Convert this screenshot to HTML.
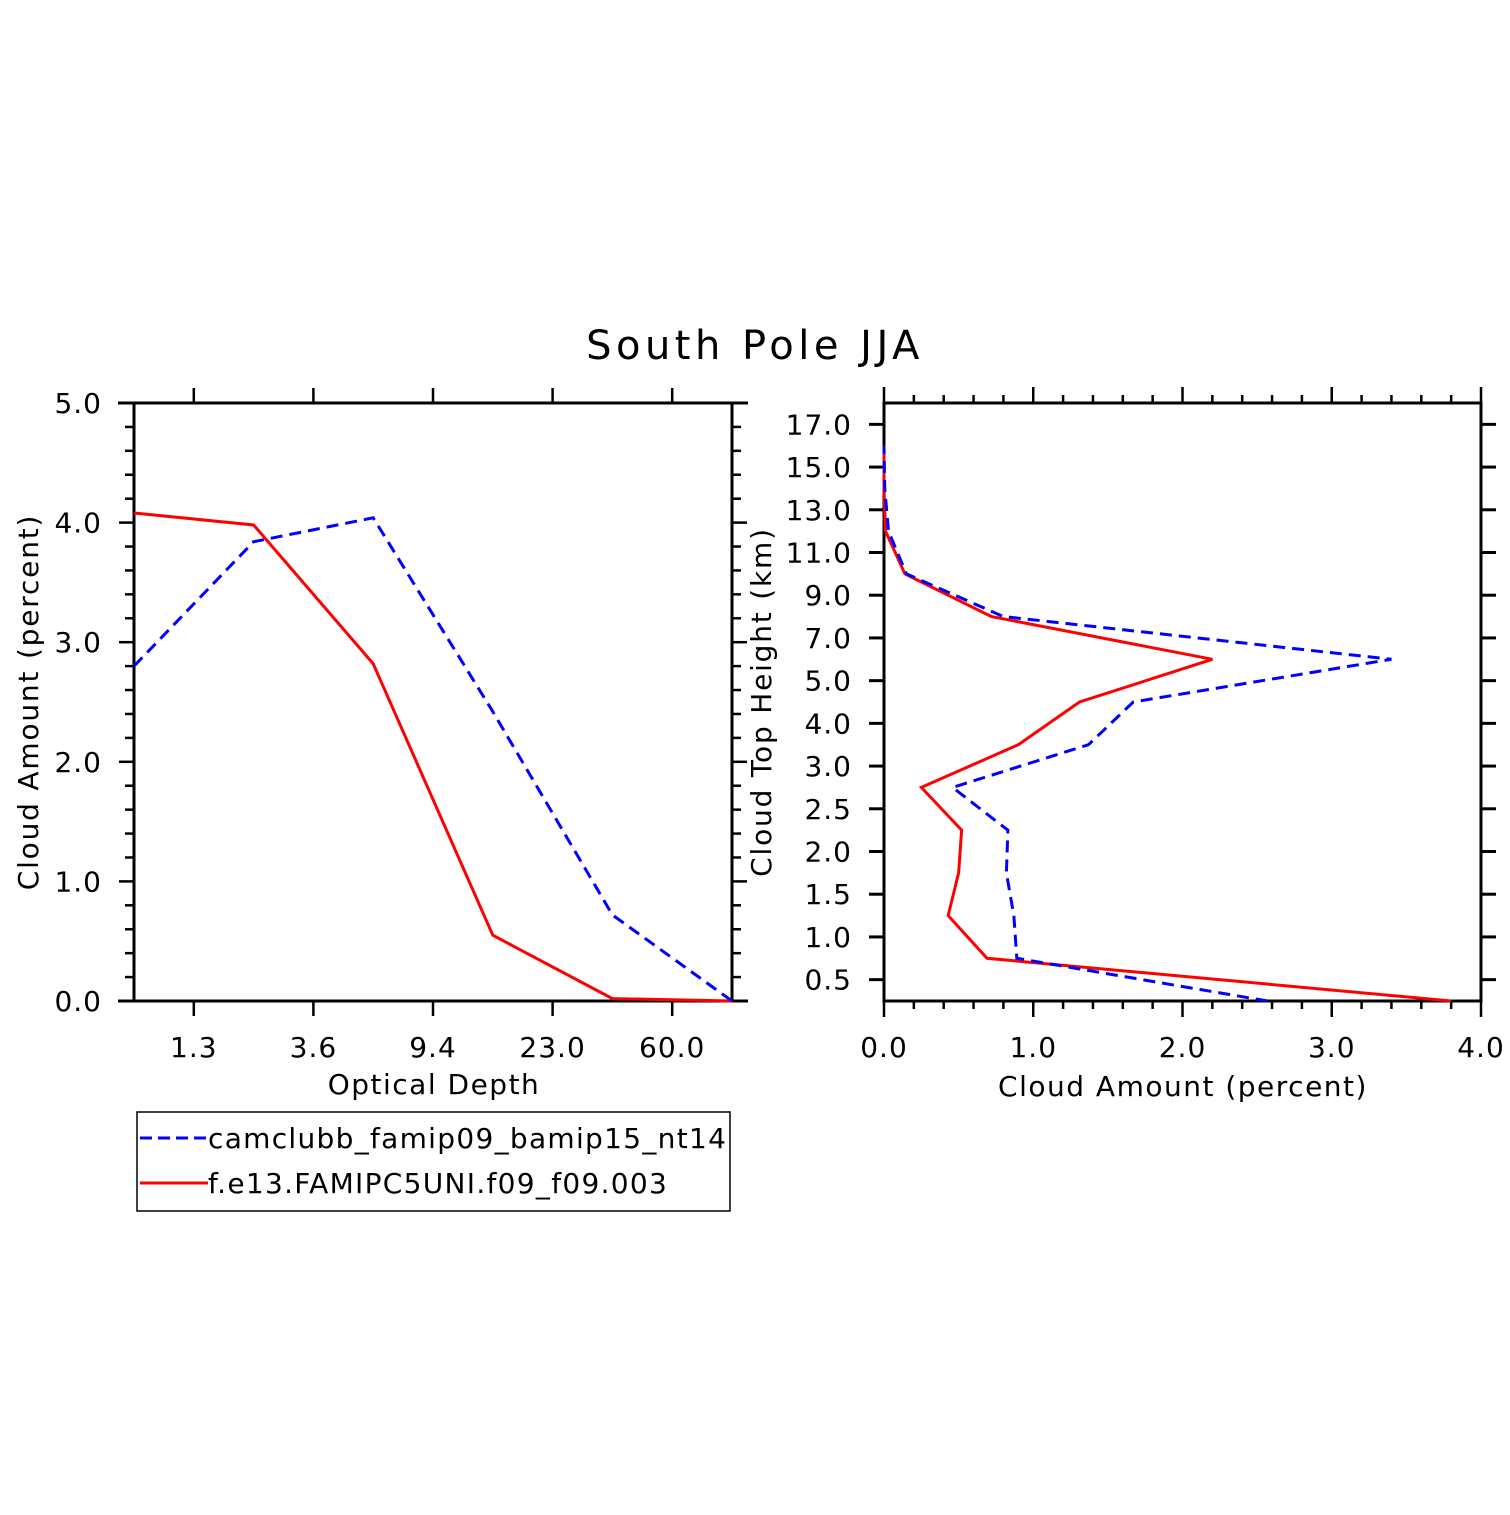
<!DOCTYPE html>
<html><head><meta charset="utf-8"><style>
html,body{margin:0;padding:0;background:#fff}
svg text{font-family:"DejaVu Sans","Liberation Sans",sans-serif;fill:#000}
</style></head><body>
<svg id="c" width="1510" height="1510" viewBox="0 0 1510 1510">
<text x="755" y="359" font-size="40" letter-spacing="4.5" text-anchor="middle">South Pole JJA</text>
<g id="left"></g>
<g id="right"></g>
<g>
<rect x="137" y="1112" width="593" height="99" fill="none" stroke="#000" stroke-width="1.5"/>
<line x1="140" y1="1138" x2="208" y2="1138" stroke="#00f" stroke-width="3" stroke-dasharray="12,6"/>
<text x="208" y="1148" font-size="28" letter-spacing="1.3">camclubb_famip09_bamip15_nt14</text>
<line x1="140" y1="1183" x2="208" y2="1183" stroke="#f00" stroke-width="3"/>
<text x="208" y="1193" font-size="28" letter-spacing="1.3">f.e13.FAMIPC5UNI.f09_f09.003</text>
</g>
</svg>
<script>
// Left panel data
const odLabels = ["1.3","3.6","9.4","23.0","60.0"];
const odBlue = [2.80, 3.84, 4.04, 2.42, 0.72, 0.0];
const odRed = [4.08, 3.98, 2.82, 0.55, 0.02, 0.0];
const odYTicks = ["0.0","1.0","2.0","3.0","4.0","5.0"];
// Right panel data
const cthLabels = ["0.5","1.0","1.5","2.0","2.5","3.0","4.0","5.0","7.0","9.0","11.0","13.0","15.0","17.0"];
const cthBlue = [2.57, 0.89, 0.87, 0.82, 0.83, 0.46, 1.37, 1.67, 3.40, 0.80, 0.15, 0.03, 0.005, 0.0];
const cthRed = [3.80, 0.69, 0.43, 0.50, 0.52, 0.25, 0.90, 1.31, 2.20, 0.72, 0.14, 0.01, 0.0, 0.0];
const caXTicks = ["0.0","1.0","2.0","3.0","4.0"];

const NS="http://www.w3.org/2000/svg";
function mk(parent,tag,attrs){const e=document.createElementNS(NS,tag);for(const k in attrs)e.setAttribute(k,attrs[k]);parent.appendChild(e);return e;}
function ln(p,x1,y1,x2,y2,w){return mk(p,'line',{x1,y1,x2,y2,stroke:'#000','stroke-width':w||3});}

// LEFT
const L=document.getElementById('left');
const lx0=134,lx1=732,ly0=1001,ly1=403;
const lxs=i=>lx0+(lx1-lx0)*i/5;
const lys=v=>ly0-(ly0-ly1)*v/5;
for(let k=0;k<=25;k++){const y=lys(k*0.2);const len=k%5===0?15:9;
 ln(L,lx0-len,y,lx0,y,2.5);ln(L,lx1,y,lx1+len,y,2.5);}
odYTicks.forEach((t,i)=>{const e=mk(L,'text',{x:102,y:lys(i)+10,'font-size':28,'text-anchor':'end','letter-spacing':1});e.textContent=t;

});
odLabels.forEach((t,i)=>{const x=lxs(i+0.5);ln(L,x,ly1-15,x,ly1,2.5);ln(L,x,ly0,x,ly0+15,2.5);
const e=mk(L,'text',{x:x,y:1057,'font-size':28,'text-anchor':'middle','letter-spacing':1});e.textContent=t;

});
mk(L,'rect',{x:lx0,y:ly1,width:lx1-lx0,height:ly0-ly1,fill:'none',stroke:'#000','stroke-width':3});
ln(L,118,ly1,lx0,ly1,3);ln(L,lx1,ly1,748,ly1,3);ln(L,118,ly0,lx0,ly0,3);ln(L,lx1,ly0,748,ly0,3);
let t=mk(L,'text',{x:434,y:1094,'font-size':28,'text-anchor':'middle','letter-spacing':1.5});t.textContent='Optical Depth';


t=mk(L,'text',{x:0,y:0,'font-size':28,'text-anchor':'middle','letter-spacing':1.8,transform:'translate(38,702) rotate(-90)'});t.textContent='Cloud Amount (percent)';


let p=mk(L,'polyline',{points:odRed.map((v,i)=>lxs(i)+','+lys(v)).join(' '),fill:'none',stroke:'#f00','stroke-width':3});


p=mk(L,'polyline',{points:odBlue.map((v,i)=>lxs(i)+','+lys(v)).join(' '),fill:'none',stroke:'#00f','stroke-width':3,'stroke-dasharray':'12,7'});



// RIGHT
const R=document.getElementById('right');
const rx0=884,rx1=1481,ry0=1001,ry1=403;
const rxs=v=>rx0+(rx1-rx0)*v/4;
const rys=k=>ry0-(ry0-ry1)*k/14;
for(let k=0;k<=20;k++){const x=rxs(k*0.2);const len=k%5===0?16:8;
 ln(R,x,ry1-len,x,ry1,2.5);ln(R,x,ry0,x,ry0+len,2.5);}
caXTicks.forEach((s,i)=>{const e=mk(R,'text',{x:rxs(i),y:1057,'font-size':28,'text-anchor':'middle','letter-spacing':1});e.textContent=s;

});
cthLabels.forEach((s,i)=>{const y=rys(i+0.5);ln(R,rx0-15,y,rx0,y,3);ln(R,rx1,y,rx1+15,y,3);
const e=mk(R,'text',{x:852,y:y+10,'font-size':28,'text-anchor':'end','letter-spacing':1});e.textContent=s;

});
mk(R,'rect',{x:rx0,y:ry1,width:rx1-rx0,height:ry0-ry1,fill:'none',stroke:'#000','stroke-width':3});
t=mk(R,'text',{x:1183,y:1096,'font-size':28,'text-anchor':'middle','letter-spacing':1.5});t.textContent='Cloud Amount (percent)';


t=mk(R,'text',{x:0,y:0,'font-size':28,'text-anchor':'middle','letter-spacing':1.8,transform:'translate(771,702) rotate(-90)'});t.textContent='Cloud Top Height (km)';


p=mk(R,'polyline',{points:cthRed.map((v,i)=>rxs(v)+','+rys(i)).join(' '),fill:'none',stroke:'#f00','stroke-width':3});


p=mk(R,'polyline',{points:cthBlue.map((v,i)=>rxs(v)+','+rys(i)).join(' '),fill:'none',stroke:'#00f','stroke-width':3,'stroke-dasharray':'12,7'});


</script>
</body></html>
